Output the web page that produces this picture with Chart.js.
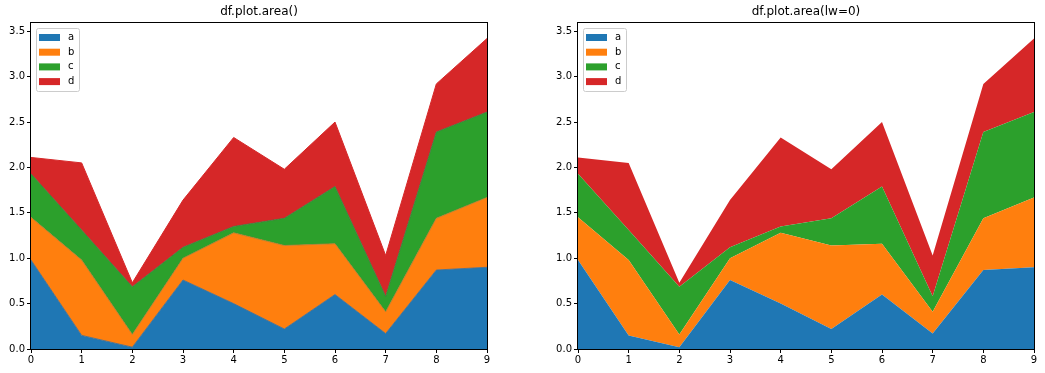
<!DOCTYPE html>
<html>
<head>
<meta charset="utf-8">
<script src="https://cdn.jsdelivr.net/npm/chart.js@4/dist/chart.umd.min.js"></script>
<style>
  html, body { margin: 0; padding: 0; background: #fff; }
  body { width: 1045px; height: 373px; position: relative; overflow: hidden; }
  .box { position: absolute; top: 0; width: 498px; height: 373px; }
</style>
</head>
<body>
<div class="box" style="left:0px"><canvas id="c1"></canvas></div>
<div class="box" style="left:547px"><canvas id="c2"></canvas></div>
<script>
const categories = [0, 1, 2, 3, 4, 5, 6, 7, 8, 9];
const seriesNames = ['a', 'b', 'c', 'd'];
const seriesA = [0.98, 0.15, 0.02, 0.76, 0.50, 0.22, 0.60, 0.17, 0.87, 0.90];
const seriesB = [0.47, 0.83, 0.14, 0.24, 0.78, 0.92, 0.56, 0.24, 0.57, 0.77];
const seriesC = [0.48, 0.33, 0.525, 0.12, 0.07, 0.30, 0.63, 0.17, 0.95, 0.94];
const seriesD = [0.18, 0.74, 0.045, 0.52, 0.98, 0.54, 0.71, 0.45, 0.53, 0.81];
const yTicks = [0.0, 0.5, 1.0, 1.5, 2.0, 2.5, 3.0, 3.5];
const titles = ['df.plot.area()', 'df.plot.area(lw=0)'];
const colors = ['#1f77b4', '#ff7f0e', '#2ca02c', '#d62728'];
const edgeColors = ['rgba(80,110,135,0.9)', 'rgba(175,125,45,0.9)', 'rgba(70,120,60,0.9)', '#d62728'];

const allSeries = [seriesA, seriesB, seriesC, seriesD];
const totals = categories.map((_, i) => allSeries.reduce((s, arr) => s + arr[i], 0));
const yMax = Math.max(...totals) * 1.05;
const FONT = 'DejaVu Sans';

function framePlugin(title) {
  return {
    id: 'frame',
    afterDraw(chart) {
      const ctx = chart.ctx, a = chart.chartArea;
      ctx.save();
      ctx.strokeStyle = '#000';
      ctx.lineWidth = 1;
      ctx.strokeRect(Math.round(a.left) - 0.5, Math.round(a.top) - 0.5,
                     Math.round(a.right - a.left) + 1, Math.round(a.bottom - a.top) + 1);
      ctx.fillStyle = '#000';
      ctx.font = '12px "' + FONT + '"';
      ctx.textAlign = 'center';
      ctx.textBaseline = 'middle';
      ctx.fillText(title, (a.left + a.right) / 2, a.top - 11);
      const bx = a.left + 5, by = a.top + 5, bw = 43, bh = 63;
      ctx.beginPath();
      if (ctx.roundRect) ctx.roundRect(bx + 0.5, by + 0.5, bw, bh, 2);
      else ctx.rect(bx + 0.5, by + 0.5, bw, bh);
      ctx.fillStyle = 'rgba(255,255,255,0.8)';
      ctx.fill();
      ctx.strokeStyle = '#cccccc';
      ctx.stroke();
      ctx.font = '10px "' + FONT + '"';
      ctx.textAlign = 'left';
      seriesNames.forEach((name, i) => {
        const cy = by + 9.5 + i * 14.7;
        ctx.fillStyle = colors[i];
        ctx.fillRect(bx + 3, cy - 3.5, 21, 7);
        ctx.fillStyle = '#000';
        ctx.fillText(name, bx + 32, cy);
      });
      ctx.restore();
    }
  };
}

function makeChart(id, title, lw) {
  const datasets = allSeries.map((arr, i) => ({
    label: seriesNames[i],
    data: categories.map((x, j) => ({ x: x, y: arr[j] })),
    backgroundColor: colors[i],
    borderColor: lw > 0 ? edgeColors[i] : colors[i],
    borderWidth: lw,
    pointRadius: 0,
    pointHoverRadius: 0,
    tension: 0,
    fill: i === 0 ? 'origin' : '-1'
  }));
  return new Chart(document.getElementById(id), {
    type: 'line',
    data: { datasets },
    plugins: [framePlugin(title)],
    options: {
      responsive: true,
      maintainAspectRatio: false,
      animation: false,
      events: [],
      layout: { padding: { top: 23, right: 11, left: 0, bottom: 0 } },
      plugins: { legend: { display: false }, title: { display: false }, tooltip: { enabled: false } },
      scales: {
        x: {
          type: 'linear', min: 0, max: 9,
          afterBuildTicks: s => { s.ticks = categories.map(v => ({ value: v })); },
          ticks: { color: '#000', font: { family: FONT, size: 10 }, padding: 1, maxRotation: 0, autoSkip: false,
                   callback: v => String(v) },
          grid: { display: true, drawOnChartArea: false, drawTicks: true, tickLength: 4, color: '#000' },
          border: { display: false },
          afterFit: s => { s.height = 24; }
        },
        y: {
          stacked: true, min: 0, max: yMax,
          afterBuildTicks: s => { s.ticks = yTicks.map(v => ({ value: v })); },
          ticks: { color: '#000', font: { family: FONT, size: 10 }, padding: 2, autoSkip: false,
                   callback: v => Number(v).toFixed(1) },
          grid: { display: true, drawOnChartArea: false, drawTicks: true, tickLength: 4, color: '#000' },
          border: { display: false },
          afterFit: s => { s.width = 31; }
        }
      }
    }
  });
}

makeChart('c1', titles[0], 1);
makeChart('c2', titles[1], 0);
</script>
</body>
</html>
